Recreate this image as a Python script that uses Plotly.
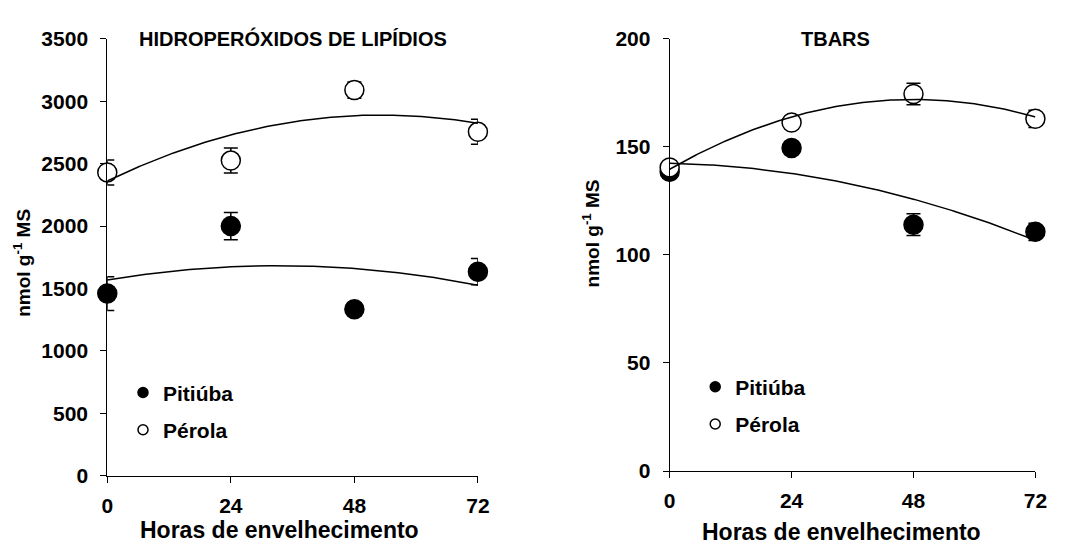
import numpy as np
import plotly.graph_objects as go

# ---------------- data ----------------
hours = [0, 24, 48, 72]
x_ticks = [0, 24, 48, 72]

# Hidroperóxidos de lipídios (nmol g-1 MS)
hp_pitiuba = [1460, 2000, 1335, 1635]
hp_pitiuba_err = [135, 110, 50, 105]
hp_perola = [2430, 2525, 3090, 2755]
hp_perola_err = [100, 100, 65, 100]

# TBARS (nmol g-1 MS)
tb_pitiuba = [138.5, 149.5, 114.0, 110.7]
tb_pitiuba_err = [3, 3, 5, 4]
tb_perola = [140.5, 161.3, 174.5, 163.0]
tb_perola_err = [2, 2, 5, 4]

series_names = ["Pitiúba", "Pérola"]
title_left = "HIDROPERÓXIDOS DE LIPÍDIOS"
title_right = "TBARS"
x_title = "Horas de envelhecimento"
y_title = "nmol g<sup>-1</sup> MS"

# ---------------- layout helpers ----------------
W, H = 1071, 552
FONT = "Liberation Sans, Arial, sans-serif"


def px(x):
    return x / W


def py(y):
    return 1 - y / H


fig = go.Figure()


def add_panel(xa, ya, pit, pit_err, per, per_err, legend_name):
    xs = np.linspace(0, 72, 145)
    # filled (Pitiúba)
    fig.add_trace(go.Scatter(
        x=hours, y=pit, mode="markers", xaxis=xa, yaxis=ya, showlegend=False,
        marker=dict(symbol="circle", size=19, color="black",
                    line=dict(color="black", width=1.5)),
        error_y=dict(type="data", array=pit_err, color="black", thickness=1.5, width=7),
        cliponaxis=False, hoverinfo="skip"))
    # open (Pérola)
    fig.add_trace(go.Scatter(
        x=hours, y=per, mode="markers", xaxis=xa, yaxis=ya, showlegend=False,
        marker=dict(symbol="circle", size=19, color="white",
                    line=dict(color="black", width=1.5)),
        error_y=dict(type="data", array=per_err, color="black", thickness=1.5, width=7),
        cliponaxis=False, hoverinfo="skip"))
    # quadratic trend lines fitted from the data
    for vals in (pit, per):
        c = np.polyfit(hours, vals, 2)
        fig.add_trace(go.Scatter(
            x=xs, y=np.polyval(c, xs), mode="lines", xaxis=xa, yaxis=ya,
            showlegend=False, line=dict(color="black", width=1.5),
            hoverinfo="skip"))
    # legend entries
    for i, (name, fill) in enumerate(zip(series_names, ["black", "white"])):
        fig.add_trace(go.Scatter(
            x=[None], y=[None], mode="markers", xaxis=xa, yaxis=ya, name=name,
            legend=legend_name, legendgroup=legend_name + str(i),
            marker=dict(symbol="circle", size=10, color=fill,
                        line=dict(color="black", width=1.5))))


add_panel("x", "y", hp_pitiuba, hp_pitiuba_err, hp_perola, hp_perola_err, "legend")
add_panel("x2", "y2", tb_pitiuba, tb_pitiuba_err, tb_perola, tb_perola_err, "legend2")

tickfont = dict(family=FONT, size=21, color="black", weight="bold")
common_x = dict(range=[0, 72], tickvals=x_ticks, showline=True, linecolor="black",
                linewidth=1, ticks="outside", ticklen=6, tickcolor="black",
                showgrid=False, zeroline=False, tickfont=tickfont,
                ticklabelstandoff=5)
common_y = dict(showline=True, linecolor="black", linewidth=1, ticks="outside",
                ticklen=6, tickcolor="black", showgrid=False, zeroline=False,
                tickfont=tickfont, ticklabelstandoff=8)

legend_common = dict(font=dict(family=FONT, size=21, color="black", weight="bold"),
                     bgcolor="rgba(0,0,0,0)", tracegroupgap=7,
                     xanchor="left", yanchor="top", itemclick=False)

fig.update_layout(
    width=W, height=H, margin=dict(l=0, r=0, t=0, b=0),
    paper_bgcolor="white", plot_bgcolor="white",
    xaxis=dict(domain=[px(103), px(480)], anchor="y", **common_x),
    yaxis=dict(domain=[py(484), py(28)], anchor="x", range=[0, 3500], dtick=500, **common_y),
    xaxis2=dict(domain=[px(675), px(1047)], anchor="y2", **common_x),
    yaxis2=dict(domain=[py(479), py(28)], anchor="x2", range=[0, 200], dtick=50, **common_y),
    legend=dict(x=px(119), y=py(376), **legend_common),
    legend2=dict(x=px(701), y=py(370), **legend_common),
)

ann_font = dict(family=FONT, color="black", weight="bold")
annotations = [
    dict(text=title_left, x=px(292), y=py(28), font=dict(size=20, **ann_font)),
    dict(text=title_right, x=px(844), y=py(28), font=dict(size=20, **ann_font)),
    dict(text=x_title, x=px(278), y=py(541), font=dict(size=23, **ann_font)),
    dict(text=x_title, x=px(850), y=py(543), font=dict(size=23, **ann_font)),
    dict(text=y_title, x=px(16), y=py(262), textangle=-90, font=dict(size=19, **ann_font)),
    dict(text=y_title, x=px(595), y=py(231), textangle=-90, font=dict(size=19, **ann_font)),
]
for a in annotations:
    fig.add_annotation(xref="paper", yref="paper", showarrow=False,
                       xanchor="center", yanchor="middle", **a)

fig.write_html("out.html")
